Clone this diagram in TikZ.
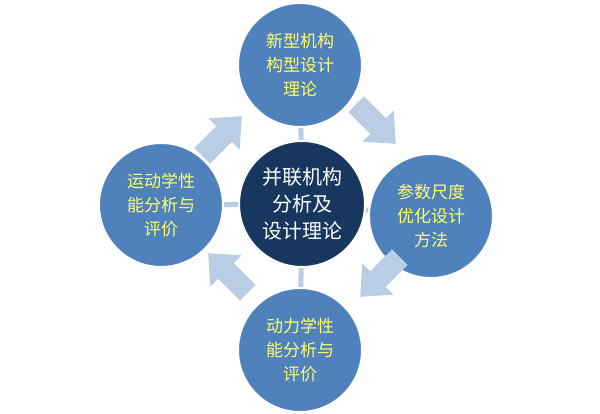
\documentclass[tikz,border=0pt]{standalone}
\usepackage{fontspec}
\setmainfont{Noto Sans CJK SC}
\definecolor{outerblue}{HTML}{4F81BD}
\definecolor{navy}{HTML}{17375E}
\definecolor{lightb}{HTML}{B9CDE5}
\definecolor{txtyel}{HTML}{FFFF66}
\tikzset{
  outer/.style={circle,fill=outerblue,draw=white,line width=2pt,minimum size=124pt,inner sep=0pt,text=txtyel,font=\fontsize{17}{24}\selectfont,align=center},
  center/.style={circle,fill=navy,draw=white,line width=2pt,minimum size=126pt,inner sep=0pt,text=white,font=\fontsize{20}{27}\selectfont,align=center},
  link/.style={draw=lightb,line width=5pt},
  bigarrow/.style={fill=lightb}
}
\newcommand{\blockarrow}[3]{%
  \begin{scope}[shift={#1}]
  \begin{scope}[x={(#2pt,#3pt)},y={(-#3pt,#2pt)}]
  \fill[bigarrow] (-28,-11) -- (3,-11) -- (3,-22) -- (28,0) -- (3,22) -- (3,11) -- (-28,11) -- cycle;
  \end{scope}\end{scope}}
\begin{document}
\begin{tikzpicture}[x=1pt,y=-1pt]
\useasboundingbox (0,0) rectangle (600,414);
\node[outer] (t) at (300,65) {新型机构\\构型设计\\理论};
\node[outer] (r) at (431,216) {参数尺度\\优化设计\\方法};
\node[outer] (b) at (300,350) {动力学性\\能分析与\\评价};
\node[outer] (l) at (161,205) {运动学性\\能分析与\\评价};
\node[center] (c) at (302,204) {};
\draw[link] (c) -- (t);
\draw[link] (c) -- (r);
\draw[link] (c) -- (b);
\draw[link] (c) -- (l);
\node[center] (c2) at (302,204) {并联机构\\分析及\\设计理论};
\blockarrow{(222,136)}{0.707}{0.707}
\blockarrow{(376,124)}{0.707}{-0.707}
\blockarrow{(380,277)}{-0.707}{-0.707}
\blockarrow{(228,273)}{-0.707}{0.707}
\end{tikzpicture}
\end{document}
